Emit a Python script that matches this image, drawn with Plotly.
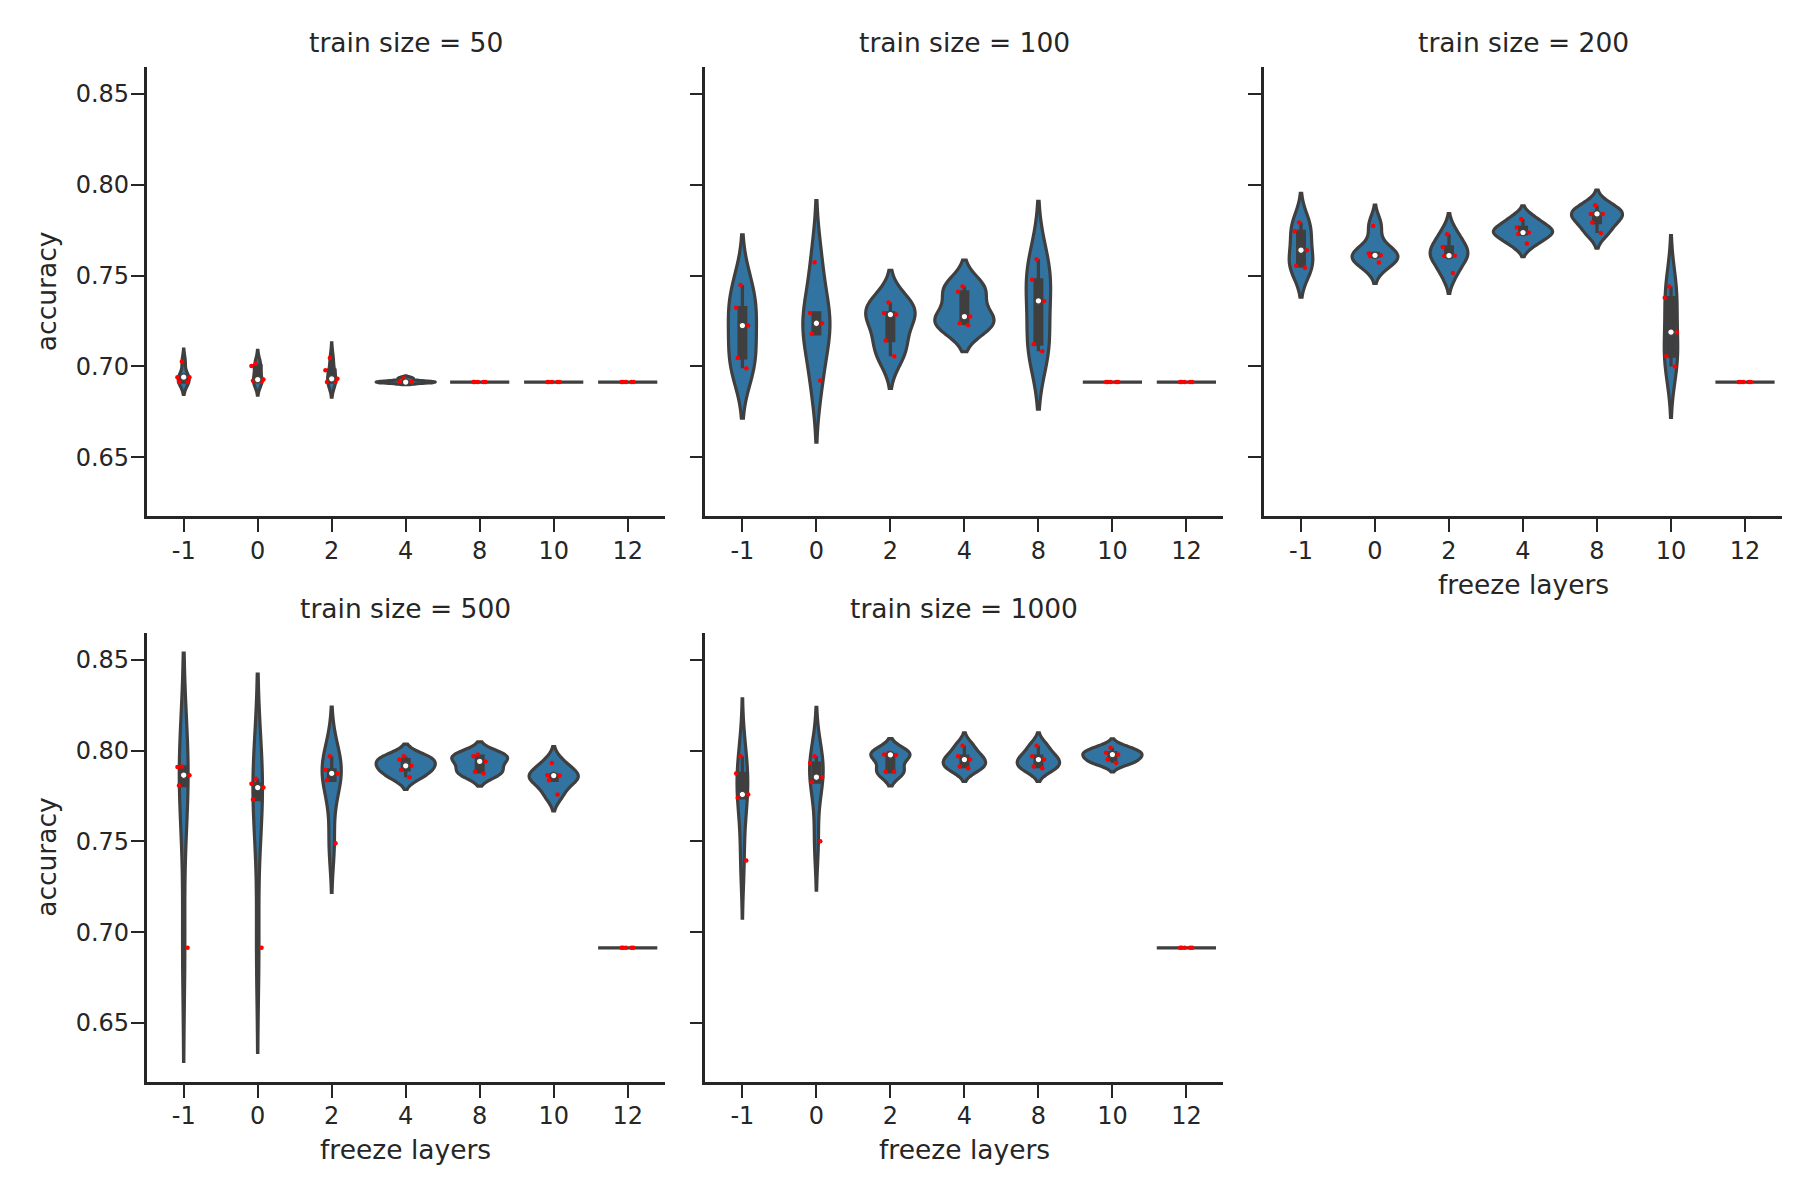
import numpy as np
import plotly.graph_objects as go

# ---------------- data ----------------
categories = ["-1", "0", "2", "4", "8", "10", "12"]
train_sizes = [50, 100, 200, 500, 1000]

acc_50 = [
    [0.7028, 0.6941, 0.6941, 0.6914, 0.6914],
    [0.7017, 0.7003, 0.6928, 0.6921, 0.6914],
    [0.7047, 0.6980, 0.6932, 0.6914, 0.6914],
    [0.6935, 0.6915, 0.6914, 0.6914, 0.6914],
    [0.6914, 0.6914, 0.6914, 0.6914, 0.6914],
    [0.6914, 0.6914, 0.6914, 0.6914, 0.6914],
    [0.6914, 0.6914, 0.6914, 0.6914, 0.6914],
]
acc_100 = [
    [0.7449, 0.7324, 0.7225, 0.7047, 0.6991],
    [0.7574, 0.7295, 0.7238, 0.7180, 0.6923],
    [0.7352, 0.7295, 0.7286, 0.7143, 0.7057],
    [0.7440, 0.7411, 0.7275, 0.7238, 0.7227],
    [0.7590, 0.7477, 0.7361, 0.7123, 0.7084],
    [0.6914, 0.6914, 0.6914, 0.6914, 0.6914],
    [0.6914, 0.6914, 0.6914, 0.6914, 0.6914],
]
acc_200 = [
    [0.7792, 0.7744, 0.7640, 0.7554, 0.7543],
    [0.7774, 0.7622, 0.7612, 0.7607, 0.7572],
    [0.7728, 0.7658, 0.7610, 0.7608, 0.7515],
    [0.7812, 0.7765, 0.7737, 0.7730, 0.7677],
    [0.7887, 0.7840, 0.7840, 0.7792, 0.7735],
    [0.7440, 0.7379, 0.7189, 0.7057, 0.7000],
    [0.6914, 0.6914, 0.6914, 0.6914, 0.6914],
]
acc_500 = [
    [0.7912, 0.7910, 0.7864, 0.7807, 0.6914],
    [0.7845, 0.7817, 0.7796, 0.7730, 0.6914],
    [0.7969, 0.7893, 0.7874, 0.7836, 0.7490],
    [0.7969, 0.7950, 0.7916, 0.7893, 0.7853],
    [0.7978, 0.7969, 0.7940, 0.7883, 0.7874],
    [0.7931, 0.7864, 0.7862, 0.7836, 0.7758],
    [0.6914, 0.6914, 0.6914, 0.6914, 0.6914],
]
acc_1000 = [
    [0.7969, 0.7874, 0.7758, 0.7739, 0.7394],
    [0.7969, 0.7931, 0.7853, 0.7826, 0.7500],
    [0.7988, 0.7978, 0.7976, 0.7883, 0.7883],
    [0.8026, 0.7969, 0.7950, 0.7912, 0.7902],
    [0.8026, 0.7969, 0.7950, 0.7912, 0.7902],
    [0.8016, 0.7988, 0.7978, 0.7950, 0.7931],
    [0.6914, 0.6914, 0.6914, 0.6914, 0.6914],
]
panel_data = [acc_50, acc_100, acc_200, acc_500, acc_1000]

y_ticks = [0.65, 0.70, 0.75, 0.80, 0.85]

# ---------------- style ----------------
FILL = "#3274a1"
GRAY = "#3f3f3f"
TXT = "#262626"
FONT = "DejaVu Sans"
W, H = 1819, 1200
VIOLIN_WIDTH = 0.8

# panel grid positions (col, row) and pixel extents
grid = [(0, 0), (1, 0), (2, 0), (0, 1), (1, 1)]
x_dom = [(146.7, 664.7), (705.4, 1223.4), (1264, 1782)]
y_dom = [(67.3, 516), (633, 1081.7)]


def scott_bw(v):
    return float(v.std(ddof=1) * len(v) ** (-0.2))


def kde_peak(v, bw):
    t = np.linspace(v.min() - 2 * bw, v.max() + 2 * bw, 600)
    d = np.exp(-0.5 * ((t[:, None] - v[None, :]) / bw) ** 2).sum(axis=1)
    return float(d.max() / (len(v) * bw * np.sqrt(2 * np.pi)))


fig = go.Figure()
violins, boxes, constants, points, medians = [], [], [], [], []

for k, data in enumerate(panel_data):
    xa = "x" if k == 0 else f"x{k+1}"
    ya = "y" if k == 0 else f"y{k+1}"
    arrs = [np.array(vals, dtype=float) for vals in data]
    peaks = {ci: kde_peak(v, scott_bw(v)) for ci, v in enumerate(arrs) if np.ptp(v) > 0}
    panel_peak = max(peaks.values())
    for ci, v in enumerate(arrs):
        n = len(v)
        if np.ptp(v) == 0:
            c = float(v[0])
            constants.append(go.Box(
                x=[ci], q1=[c], median=[c], q3=[c], lowerfence=[c], upperfence=[c],
                width=VIOLIN_WIDTH, fillcolor=GRAY, line=dict(color=GRAY, width=3.3),
                whiskerwidth=0, boxpoints=False, xaxis=xa, yaxis=ya,
                showlegend=False, hoverinfo="skip"))
        else:
            bw = scott_bw(v)
            violins.append(go.Violin(
                x=[ci] * n, y=v, xaxis=xa, yaxis=ya, bandwidth=bw,
                width=VIOLIN_WIDTH * peaks[ci] / panel_peak,
                spanmode="soft", fillcolor=FILL, line=dict(color=GRAY, width=3.2),
                opacity=1, points=False, box_visible=False, meanline_visible=False,
                side="both", showlegend=False, hoverinfo="skip"))
            q1, med, q3 = np.percentile(v, [25, 50, 75])
            iqr = q3 - q1
            lo = float(v[v >= q1 - 1.5 * iqr].min())
            hi = float(v[v <= q3 + 1.5 * iqr].max())
            boxes.append(go.Box(
                x=[ci], q1=[q1], median=[med], q3=[q3], lowerfence=[lo], upperfence=[hi],
                width=0.09, fillcolor=GRAY, line=dict(color=GRAY, width=3.3),
                whiskerwidth=0, boxpoints=False, xaxis=xa, yaxis=ya,
                showlegend=False, hoverinfo="skip"))
            medians.append(go.Scatter(
                x=[ci], y=[med], mode="markers", xaxis=xa, yaxis=ya,
                marker=dict(color="white", size=6.5, line=dict(color=GRAY, width=1.2)),
                showlegend=False, hoverinfo="skip"))
        points.append(go.Box(
            x=[ci] * n, y=v, boxpoints="all", jitter=0.25, pointpos=0, width=VIOLIN_WIDTH,
            fillcolor="rgba(0,0,0,0)", line=dict(color="rgba(0,0,0,0)", width=0),
            whiskerwidth=0, marker=dict(color="red", size=4.5, line=dict(width=0)),
            xaxis=xa, yaxis=ya, showlegend=False, hoverinfo="skip"))

for tr in violins + boxes + constants + points + medians:
    fig.add_trace(tr)

layout = dict(
    width=W, height=H, margin=dict(l=0, r=0, t=0, b=0),
    paper_bgcolor="white", plot_bgcolor="white",
    violinmode="overlay", boxmode="overlay", showlegend=False,
    font=dict(family=FONT, color=TXT),
)

annotations = []
for k, (col, row) in enumerate(grid):
    xs = "" if k == 0 else str(k + 1)
    x0, x1 = x_dom[col]
    y0, y1 = y_dom[row]
    layout["xaxis" + xs] = dict(
        domain=[x0 / W, x1 / W], anchor="y" + xs, range=[-0.5, 6.5],
        tickvals=list(range(len(categories))), ticktext=categories,
        showline=True, linecolor=TXT, linewidth=2.6, mirror=False,
        ticks="outside", ticklen=13, tickwidth=2.2, tickcolor=TXT,
        ticklabelstandoff=-2,
        showgrid=False, zeroline=False, fixedrange=True,
        tickfont=dict(family=FONT, size=24, color=TXT))
    layout["yaxis" + xs] = dict(
        domain=[1 - y1 / H, 1 - y0 / H], anchor="x" + xs, range=[0.6177, 0.8647],
        tickvals=y_ticks, ticktext=[f"{t:.2f}" for t in y_ticks],
        showticklabels=(col == 0), ticklabelstandoff=-3,
        showline=True, linecolor=TXT, linewidth=2.6,
        ticks="outside", ticklen=13, tickwidth=2.2, tickcolor=TXT,
        showgrid=False, zeroline=False, fixedrange=True,
        tickfont=dict(family=FONT, size=24, color=TXT))
    annotations.append(dict(
        text=f"train size = {train_sizes[k]}", x=(x0 + x1) / 2 / W,
        y=1 - (y0 - 25) / H, xref="paper", yref="paper", showarrow=False,
        xanchor="center", yanchor="middle",
        font=dict(family=FONT, size=26.5, color=TXT)))

for col, row in [(2, 0), (0, 1), (1, 1)]:
    x0, x1 = x_dom[col]
    y0, y1 = y_dom[row]
    annotations.append(dict(
        text="freeze layers", x=(x0 + x1) / 2 / W, y=1 - (y1 + 68) / H,
        xref="paper", yref="paper", showarrow=False,
        xanchor="center", yanchor="middle",
        font=dict(family=FONT, size=26.5, color=TXT)))
for row in [0, 1]:
    y0, y1 = y_dom[row]
    annotations.append(dict(
        text="accuracy", x=46.5 / W, y=1 - (y0 + y1) / 2 / H,
        xref="paper", yref="paper", showarrow=False, textangle=-90,
        xanchor="center", yanchor="middle",
        font=dict(family=FONT, size=26.5, color=TXT)))

layout["annotations"] = annotations
fig.update_layout(**layout)

fig.write_html("out.html", config={"displayModeBar": False},
               post_script="document.body.style.margin='0px';")
